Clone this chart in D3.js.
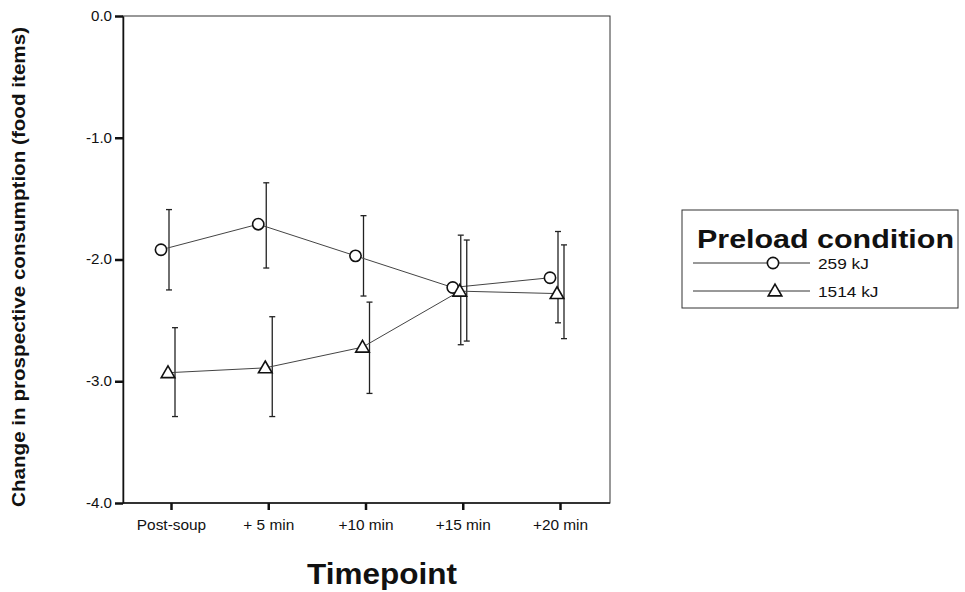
<!DOCTYPE html>
<html>
<head>
<meta charset="utf-8">
<script src="https://cdn.jsdelivr.net/npm/d3@7"></script>
<style>
  html, body { margin: 0; padding: 0; background: #fff; }
  svg { display: block; font-family: "Liberation Sans", Arial, Helvetica, sans-serif; }
</style>
</head>
<body>
<svg id="chart" width="965" height="592"></svg>
<script>
// ---- data ----
const categories = ["Post-soup", "+ 5 min", "+10 min", "+15 min", "+20 min"];
const seriesNames = ["259 kJ", "1514 kJ"];
const mean259  = [-1.92, -1.71, -1.97, -2.23, -2.15];
const low259   = [-2.25, -2.07, -2.30, -2.70, -2.52];
const high259  = [-1.59, -1.37, -1.64, -1.80, -1.77];
const mean1514 = [-2.93, -2.89, -2.72, -2.26, -2.28];
const low1514  = [-3.29, -3.29, -3.10, -2.67, -2.65];
const high1514 = [-2.56, -2.47, -2.35, -1.84, -1.88];
const yTicks = [0, -1, -2, -3, -4];
const yTickLabels = ["0.0", "-1.0", "-2.0", "-3.0", "-4.0"];
const xTitle = "Timepoint";
const yTitle = "Change in prospective consumption (food items)";
const legendTitle = "Preload condition";

// ---- layout ----
const svg = d3.select("#chart");
const plot = { left: 123, right: 610, top: 16, bottom: 503 };
const x = d3.scalePoint().domain(categories).range([171, 560]);
const y = d3.scaleLinear().domain([0, -4]).range([plot.top, plot.bottom]);

function stretch(sel, k) {
  sel.each(function () {
    const w = this.getComputedTextLength();
    d3.select(this).attr("textLength", w * k).attr("lengthAdjust", "spacingAndGlyphs");
  });
}
function stretchTo(sel, w) {
  sel.attr("textLength", w).attr("lengthAdjust", "spacingAndGlyphs");
}

// frame
svg.append("rect")
  .attr("x", plot.left).attr("y", plot.top)
  .attr("width", plot.right - plot.left).attr("height", plot.bottom - plot.top)
  .attr("fill", "none").attr("stroke", "#333").attr("stroke-width", 1);

// y axis
const yAxis = svg.append("g")
  .attr("transform", `translate(${plot.left},0)`)
  .call(d3.axisLeft(y).tickValues(yTicks).tickFormat((d, i) => yTickLabels[i]).tickSize(8).tickSizeOuter(0).tickPadding(3));
yAxis.attr("font-size", null).attr("font-family", null);
yAxis.select(".domain").attr("stroke", "#111").attr("stroke-width", 1.5);
yAxis.selectAll(".tick line").attr("stroke", "#111").attr("stroke-width", 2.5);
yAxis.selectAll(".tick text").style("font-size", "14px").attr("fill", "#111")
  .call(stretch, 1.08);

// x axis
const xAxis = svg.append("g")
  .attr("transform", `translate(0,${plot.bottom})`)
  .call(d3.axisBottom(x).tickSize(7).tickSizeOuter(0).tickPadding(10));
xAxis.attr("font-size", null).attr("font-family", null);
xAxis.select(".domain").attr("stroke", "#111").attr("stroke-width", 1.5)
  .attr("d", `M${plot.left},0H${plot.right}`);
xAxis.selectAll(".tick line").attr("stroke", "#111").attr("stroke-width", 2.5);
xAxis.selectAll(".tick text").style("font-size", "14px").attr("fill", "#111")
  .call(stretch, 1.1);

// titles
svg.append("text")
  .attr("x", 382).attr("y", 584)
  .attr("text-anchor", "middle").attr("font-weight", "bold").attr("font-size", 30).attr("fill", "#111")
  .text(xTitle).call(stretch, 1.05);

svg.append("text")
  .attr("transform", `translate(25,267) rotate(-90)`)
  .attr("text-anchor", "middle").attr("font-weight", "bold").attr("font-size", 19).attr("fill", "#111")
  .text(yTitle).call(stretchTo, 480);

// series
const series = [
  { name: seriesNames[0], mean: mean259, low: low259, high: high259, shape: "circle", mOff: -10, eOff: -2 },
  { name: seriesNames[1], mean: mean1514, low: low1514, high: high1514, shape: "triangle", mOff: -3, eOff: 4 }
];

const symCircle = d3.symbol().type(d3.symbolCircle).size(100);
const symTri = d3.symbol().type(d3.symbolTriangle).size(80);

series.forEach(s => {
  const g = svg.append("g");
  const pts = categories.map((c, i) => ({ c, m: s.mean[i], lo: s.low[i], hi: s.high[i] }));
  // error bars
  const eb = g.selectAll(".eb").data(pts).enter().append("g");
  eb.append("line")
    .attr("x1", d => x(d.c) + s.eOff).attr("x2", d => x(d.c) + s.eOff)
    .attr("y1", d => y(d.hi)).attr("y2", d => y(d.lo))
    .attr("stroke", "#222").attr("stroke-width", 1.3);
  [ "hi", "lo" ].forEach(k => {
    eb.append("line")
      .attr("x1", d => x(d.c) + s.eOff - 3).attr("x2", d => x(d.c) + s.eOff + 3)
      .attr("y1", d => y(d[k])).attr("y2", d => y(d[k]))
      .attr("stroke", "#222").attr("stroke-width", 1.3);
  });
  // line
  g.append("path")
    .datum(pts)
    .attr("d", d3.line().x(d => x(d.c) + s.mOff).y(d => y(d.m)))
    .attr("fill", "none").attr("stroke", "#444").attr("stroke-width", 1);
  // markers
  g.selectAll(".mk").data(pts).enter().append("path")
    .attr("d", s.shape === "circle" ? symCircle : symTri)
    .attr("transform", d => `translate(${x(d.c) + s.mOff},${y(d.m) + (s.shape === "circle" ? 0 : 1)})`)
    .attr("fill", "#fff").attr("stroke", "#111").attr("stroke-width", 1.6);
});

// legend
const lg = svg.append("g");
lg.append("rect").attr("x", 682).attr("y", 210).attr("width", 276).attr("height", 98)
  .attr("fill", "none").attr("stroke", "#333").attr("stroke-width", 1);
lg.append("text").attr("x", 697).attr("y", 248)
  .attr("font-weight", "bold").attr("font-size", 25).attr("fill", "#111")
  .text(legendTitle).call(stretchTo, 257);
const rowsY = [263, 291];
series.forEach((s, i) => {
  lg.append("line").attr("x1", 693).attr("x2", 810).attr("y1", rowsY[i]).attr("y2", rowsY[i])
    .attr("stroke", "#333").attr("stroke-width", 1);
  lg.append("path").attr("d", s.shape === "circle" ? symCircle : symTri)
    .attr("transform", `translate(${773 + (i ? 2 : 0)},${rowsY[i] + (i ? 1 : 0)})`)
    .attr("fill", "#fff").attr("stroke", "#111").attr("stroke-width", 1.6);
  lg.append("text").attr("x", 818).attr("y", rowsY[i] + 6)
    .attr("font-size", 15).attr("fill", "#111")
    .text(s.name).call(stretch, 1.15);
});
</script>
</body>
</html>
